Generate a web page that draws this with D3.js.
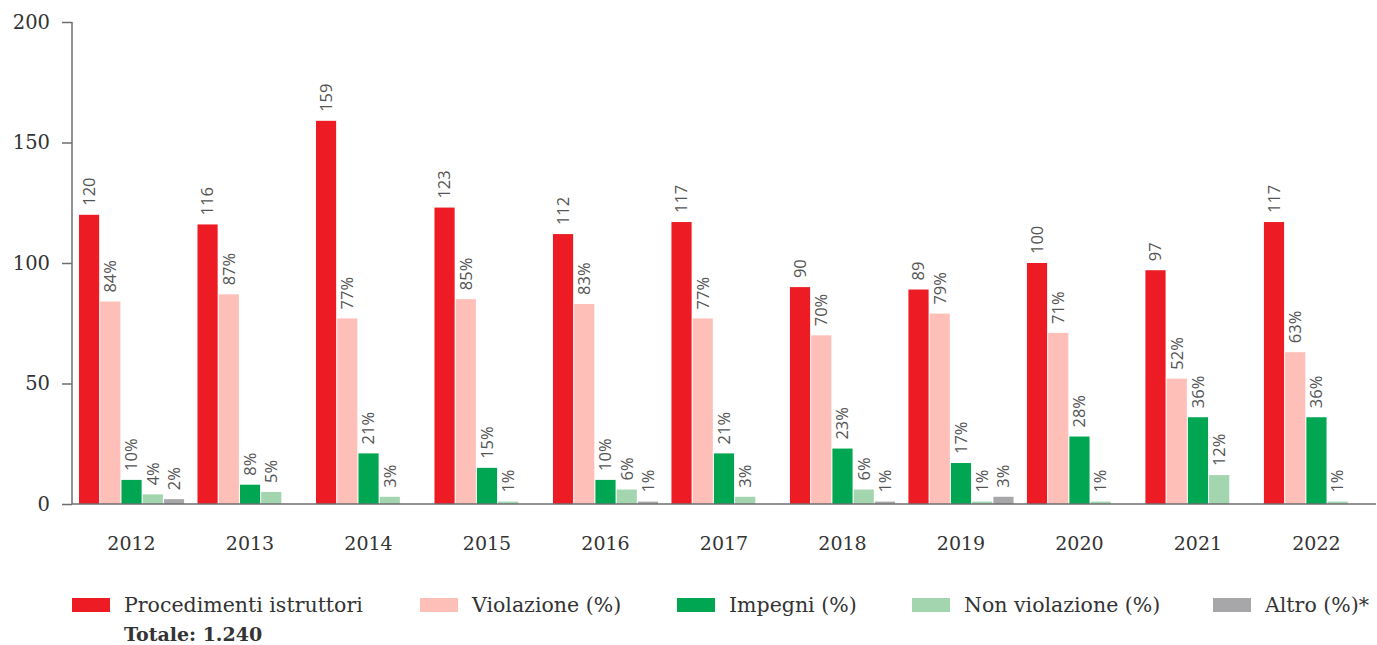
<!DOCTYPE html>
<html>
<head>
<meta charset="utf-8">
<script src="https://cdn.jsdelivr.net/npm/d3@7"></script>
<style>
  body { margin: 0; background: #fff; }
  svg { display: block; }
</style>
</head>
<body>
<div id="chart"></div>
<script>
// dati
var years = ["2012", "2013", "2014", "2015", "2016", "2017", "2018", "2019", "2020", "2021", "2022"];
var series = ["Procedimenti istruttori", "Violazione (%)", "Impegni (%)", "Non violazione (%)", "Altro (%)*"];
var procedimenti = [120, 116, 159, 123, 112, 117, 90, 89, 100, 97, 117];
var violazione = [84, 87, 77, 85, 83, 77, 70, 79, 71, 52, 63];
var impegni = [10, 8, 21, 15, 10, 21, 23, 17, 28, 36, 36];
var nonViolazione = [4, 5, 3, 1, 6, 3, 6, 1, 1, 12, 1];
var altro = [2, 0, 0, 0, 1, 0, 1, 3, 0, 0, 0];
var yTicks = [0, 50, 100, 150, 200];
var totale = "Totale: 1.240";

var colors = ["#ed1c24", "#ffbfb9", "#00a651", "#a3d5af", "#a7a7a9"];
var values = [procedimenti, violazione, impegni, nonViolazione, altro];

var W = 1377, H = 645;
var margin = { top: 22, right: 1, bottom: 141, left: 72 };
var width = W - margin.left - margin.right, height = H - margin.top - margin.bottom;

var svg = d3.select("#chart").append("svg")
    .attr("width", W)
    .attr("height", H);

var g = svg.append("g")
    .attr("transform", "translate(" + margin.left + "," + margin.top + ")");

var x0 = d3.scaleBand()
    .domain(years)
    .range([0, width])
    .paddingInner(0.113)
    .paddingOuter(0.059);

var x1 = d3.scaleBand()
    .domain(d3.range(series.length))
    .range([0, x0.bandwidth()])
    .paddingInner(0.05);

var y = d3.scaleLinear()
    .domain([0, 200])
    .range([height, 0]);

var serif = "'DejaVu Serif', serif";
var sans = "'Open Sans', 'Noto Sans', sans-serif";

// asse y
var yAxis = g.append("g")
    .call(d3.axisLeft(y).tickValues(yTicks).tickSize(10).tickPadding(12))
    .call(function (s) { s.select(".domain").attr("d", "M0," + y(200) + "V" + y(0)); });
yAxis.selectAll("line, path").attr("stroke", "#6d6e71").attr("stroke-width", 1.5);
yAxis.selectAll("text")
    .style("font-family", serif)
    .style("font-size", "19.5px")
    .attr("fill", "#333");

// barre
var rows = years.map(function (yr, i) {
    return { year: yr, vals: values.map(function (v) { return v[i]; }) };
});

var groups = g.selectAll(".year")
    .data(rows).enter()
    .append("g")
    .attr("class", "year")
    .attr("transform", function (d) { return "translate(" + x0(d.year) + ",0)"; });

groups.selectAll("rect")
    .data(function (d) { return d.vals.map(function (v, k) { return { k: k, v: v }; }); })
    .enter().append("rect")
    .filter(function (d) { return d.v > 0; })
    .attr("x", function (d) { return x1(d.k); })
    .attr("y", function (d) { return y(d.v); })
    .attr("width", x1.bandwidth())
    .attr("height", function (d) { return y(0) - y(d.v); })
    .attr("fill", function (d) { return colors[d.k]; });

groups.selectAll("text.lbl")
    .data(function (d) { return d.vals.map(function (v, k) { return { k: k, v: v }; }).filter(function (d) { return d.v > 0; }); })
    .enter().append("text")
    .attr("class", "lbl")
    .attr("transform", function (d) {
        return "translate(" + (x1(d.k) + x1.bandwidth() / 2) + "," + (y(d.v) - 9) + ") rotate(-90)";
    })
    .attr("dy", "0.35em")
    .style("font-family", sans)
    .style("font-size", "16.5px")
    .attr("fill", "#555")
    .text(function (d) { return d.k === 0 ? d.v : d.v + "%"; });

// asse x
g.append("line")
    .attr("x1", 0).attr("x2", width)
    .attr("y1", y(0)).attr("y2", y(0))
    .attr("stroke", "#6d6e71")
    .attr("stroke-width", 1.5);

g.selectAll("text.xlab")
    .data(years).enter()
    .append("text")
    .attr("class", "xlab")
    .attr("x", function (d) { return x0(d) + x0.bandwidth() / 2; })
    .attr("y", y(0) + 46)
    .attr("text-anchor", "middle")
    .style("font-family", serif)
    .style("font-size", "19px")
    .attr("fill", "#333")
    .text(function (d) { return d; });

// legenda
var legendX = [72, 420, 677, 912, 1213];
var legend = svg.selectAll(".legend")
    .data(series).enter()
    .append("g")
    .attr("class", "legend")
    .attr("transform", function (d, i) { return "translate(" + legendX[i] + ",598)"; });

legend.append("rect")
    .attr("width", 38)
    .attr("height", 14)
    .attr("fill", function (d, i) { return colors[i]; });

legend.append("text")
    .attr("x", 52)
    .attr("y", 7)
    .attr("dy", "0.35em")
    .style("font-family", serif)
    .style("font-size", "20.5px")
    .attr("fill", "#333")
    .text(function (d) { return d; });

svg.append("text")
    .attr("x", 124)
    .attr("y", 641)
    .style("font-family", serif)
    .style("font-size", "19px")
    .style("font-weight", "700")
    .attr("fill", "#333")
    .text(totale);
</script>
</body>
</html>
